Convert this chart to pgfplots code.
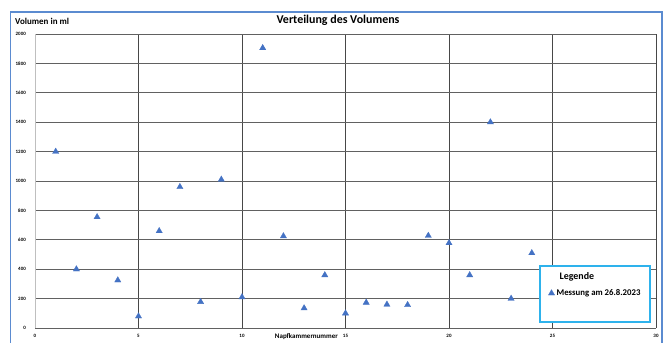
\documentclass[border=0pt]{standalone}
\usepackage{fontspec}
\setmainfont{Carlito}
\usepackage{pgfplots}
\pgfplotsset{compat=1.18}
\definecolor{mblue}{HTML}{4472C4}
\definecolor{frameblue}{HTML}{5B8BD0}
\definecolor{legcyan}{HTML}{2EB2EC}
\definecolor{gridh}{gray}{0.38}
\definecolor{gridv}{gray}{0.28}
\begin{document}
\begin{tikzpicture}[x=1bp,y=1bp]
\useasboundingbox (0,0) rectangle (671,342);
\fill[white] (0,0) rectangle (671,342);
\draw[frameblue, line width=1.5bp] (10.5,-5) -- (10.5,330) -- (662,330) -- (662,-5);
\node[font=\fontsize{12}{14}\selectfont\bfseries] at (338,322) {Verteilung des Volumens};
\node[font=\fontsize{9}{10}\selectfont\bfseries, anchor=west, inner sep=0pt] at (15,321) {Volumen in ml};
\begin{axis}[
  at={(35bp,14bp)}, anchor=south west,
  width=621bp, height=294bp, scale only axis,
  xmin=0, xmax=30, ymin=0, ymax=2000,
  xtick={0,5,...,30}, ytick={0,200,...,2000},
  grid=major,
  x grid style={gridv, line width=0.9bp},
  y grid style={gridh, line width=0.9bp},
  axis x line*=bottom, axis y line*=left,
  x axis line style={-, gridh, line width=0.9bp},
  y axis line style={-, gray!50, line width=0.8bp},
  major tick length=0pt,
  tick label style={font=\fontsize{5}{6}\selectfont\bfseries, inner sep=0pt},
  /pgf/number format/assume math mode=true,
  /pgf/number format/1000 sep={},
  yticklabel style={xshift=-9bp},
  xticklabel style={yshift=-6bp},
  xlabel={Napfkammernummer},
  xlabel style={at={(axis description cs:0.437,0)}, anchor=north, yshift=-5bp, inner sep=0pt, font=\fontsize{7}{8}\selectfont\bfseries},
  legend style={at={(rel axis cs:0.8116,0.2143)}, anchor=north west, draw=legcyan, line width=2bp, fill=white, font=\fontsize{8.8}{10}\selectfont\bfseries, inner xsep=3bp, inner ysep=5bp, row sep=4bp},
  legend cell align=left,
  clip=false,
]
\addlegendimage{empty legend}
\addlegendentry{\hspace{3bp}\fontsize{10}{11}\selectfont\bfseries Legende}
\addplot[only marks, mark=triangle*, mark size=3.6bp, line width=0.3bp, mark options={fill=mblue, draw=mblue}] coordinates {
(1,1200) (2,400) (3,755) (4,325) (5,80) (6,660) (7,960) (8,178) (9,1010) (10,210)
(11,1905) (12,625) (13,135) (14,360) (15,100) (16,173) (17,160) (18,157) (19,628) (20,578)
(21,360) (22,1400) (23,200) (24,510)
};
\addlegendentry{Messung am 26.8.2023\rule{5bp}{0pt}}
\addlegendimage{empty legend}
\addlegendentry{\rule{0pt}{9bp}}
\end{axis}
\end{tikzpicture}
\end{document}
